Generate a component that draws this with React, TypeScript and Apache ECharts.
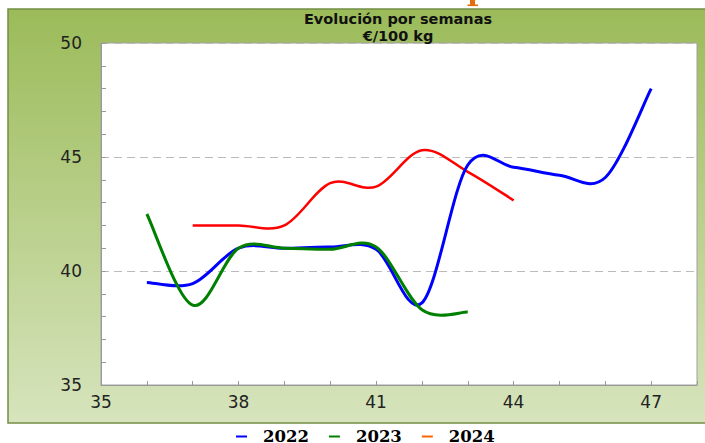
import React, { useEffect, useRef } from "react";
import * as echarts from "echarts";

const weeks = ["35", "36", "37", "38", "39", "40", "41", "42", "43", "44", "45", "46", "47", "48"];
const s2022 = [null, 39.5, 39.45, 41.0, 41.0, 41.05, 40.95, 38.6, 44.65, 44.55, 44.2, 44.1, 48.0, null];
const s2023 = [null, 42.5, 38.5, 41.0, 41.0, 40.95, 41.05, 38.3, 38.2, null, null, null, null, null];
const s2024 = [null, null, 42.0, 42.0, 42.0, 43.85, 43.7, 45.3, 44.35, 43.1, null, null, null, null];
const seriesNames = ["2022", "2023", "2024"];
const titleText = "Evolución por semanas\n€/100 kg";

type Num = number | null;

function toData(vals: Num[]) {
  const out: [number, number][] = [];
  vals.forEach((v, i) => {
    if (v != null) out.push([i, v]);
  });
  return out;
}

// Excel-like (Catmull-Rom) smoothed line, positioned through the axes' own scales
function makeRender(vals: Num[], color: string, width: number) {
  return (params: any, api: any) => {
    if (params.dataIndex !== 0) return null;
    const pts: number[][] = [];
    vals.forEach((v, i) => {
      if (v != null) pts.push(api.coord([i, v]));
    });
    if (!pts.length) return null;
    let d = `M${pts[0][0]},${pts[0][1]}`;
    for (let i = 0; i < pts.length - 1; i++) {
      const p0 = pts[i - 1] || pts[i];
      const p1 = pts[i];
      const p2 = pts[i + 1];
      const p3 = pts[i + 2] || p2;
      const c1x = p1[0] + (p2[0] - p0[0]) / 6;
      const c1y = p1[1] + (p2[1] - p0[1]) / 6;
      const c2x = p2[0] - (p3[0] - p1[0]) / 6;
      const c2y = p2[1] - (p3[1] - p1[1]) / 6;
      d += ` C${c1x},${c1y} ${c2x},${c2y} ${p2[0]},${p2[1]}`;
    }
    return {
      type: "path",
      shape: { pathData: d },
      style: { stroke: color, lineWidth: width, fill: "none", lineJoin: "round", lineCap: "butt" },
    };
  };
}

export default function App() {
  const ref = useRef<HTMLDivElement>(null);
  useEffect(() => {
    if (!ref.current) return;
    const chart = echarts.init(ref.current, null, { renderer: "svg" });
    const sans = "DejaVu Sans";
    chart.setOption({
      animation: false,
      backgroundColor: "#ffffff",
      title: {
        text: titleText,
        left: 398,
        textAlign: "center",
        top: 10,
        padding: 0,
        textStyle: { fontFamily: sans, fontWeight: "bold", fontSize: 14.5, lineHeight: 17, color: "#111" },
      },
      graphic: [
        {
          type: "rect",
          z: -100,
          shape: { x: 8, y: 9, width: 705, height: 414 },
          style: {
            fill: new echarts.graphic.LinearGradient(0, 0, 0, 1, [
              { offset: 0, color: "#9BBB59" },
              { offset: 1, color: "#D7E4BD" },
            ]),
            stroke: "#738F45",
            lineWidth: 1.5,
          },
        },
        { type: "rect", z: -100, shape: { x: 470, y: 0, width: 5, height: 5 }, style: { fill: "#E46C0A" } },
        { type: "rect", z: -100, shape: { x: 467.5, y: 4.5, width: 10.5, height: 1.6 }, style: { fill: "#E46C0A" } },
      ],
      legend: {
        left: 231,
        top: 423,
        icon: "rect",
        itemWidth: 11,
        itemHeight: 2,
        itemGap: 20,
        textStyle: {
          fontFamily: "DejaVu Serif",
          fontWeight: "bold",
          fontSize: 16.5,
          lineHeight: 16,
          color: "#000",
          padding: [0, 0, 0, 11],
        },
        data: [
          { name: seriesNames[0], itemStyle: { color: "#0000FF" } },
          { name: seriesNames[1], itemStyle: { color: "#008000" } },
          { name: seriesNames[2], itemStyle: { color: "#FF6600" } },
        ],
      },
      grid: {
        left: 101,
        top: 43,
        width: 596,
        height: 342,
        show: true,
        backgroundColor: "#ffffff",
        borderColor: "#A0A0A0",
        borderWidth: 1,
        containLabel: false,
      },
      xAxis: {
        type: "category",
        data: weeks,
        boundaryGap: false,
        axisLine: { lineStyle: { color: "#999", width: 1 } },
        axisTick: { show: true, inside: true, length: 4, interval: 0, lineStyle: { color: "#999" } },
        axisLabel: { interval: 2, margin: 8, fontFamily: sans, fontSize: 17, color: "#222" },
        splitLine: { show: false },
      },
      yAxis: {
        type: "value",
        min: 35,
        max: 50,
        interval: 5,
        axisLine: { show: true, lineStyle: { color: "#999", width: 1 } },
        axisTick: { show: true, inside: true, length: 5, lineStyle: { color: "#999" } },
        minorTick: { show: true, splitNumber: 5, length: 5, lineStyle: { color: "#999" } },
        axisLabel: { margin: 19, fontFamily: sans, fontSize: 17, color: "#222" },
        splitLine: { show: true, lineStyle: { color: "#BBBBBB", type: [8, 5], width: 1 } },
      },
      series: [
        {
          name: seriesNames[0],
          type: "custom",
          data: toData(s2022),
          encode: { x: 0, y: 1 },
          z: 3,
          itemStyle: { color: "#0000FF" },
          renderItem: makeRender(s2022, "#0000FF", 3),
        },
        {
          name: seriesNames[1],
          type: "custom",
          data: toData(s2023),
          encode: { x: 0, y: 1 },
          z: 4,
          itemStyle: { color: "#008000" },
          renderItem: makeRender(s2023, "#008000", 3),
        },
        {
          name: seriesNames[2],
          type: "custom",
          data: toData(s2024),
          encode: { x: 0, y: 1 },
          z: 2,
          itemStyle: { color: "#FF6600" },
          renderItem: makeRender(s2024, "#FF0000", 2.5),
        },
      ],
    });
    return () => chart.dispose();
  }, []);
  return (
    <div
      ref={ref}
      style={{ position: "fixed", left: 0, top: 0, width: 705, height: 443, background: "#fff" }}
    />
  );
}
